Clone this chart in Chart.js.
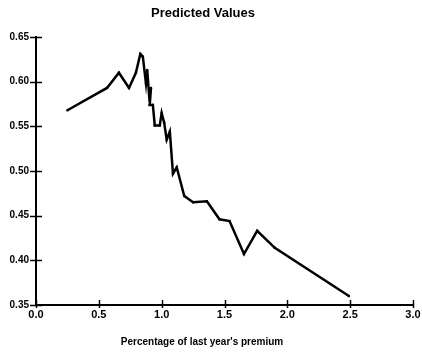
<!DOCTYPE html>
<html>
<head>
<meta charset="utf-8">
<script src="https://cdn.jsdelivr.net/npm/chart.js@4.4.0/dist/chart.umd.min.js"></script>
<style>
  html, body { margin: 0; padding: 0; background: #fff; }
  #wrap { width: 422px; height: 352px; position: relative; }
</style>
</head>
<body>
<div id="wrap"><canvas id="c" width="422" height="352"></canvas></div>
<script>
const chartTitle = "Predicted Values";
const xAxisTitle = "Percentage of last year's premium";
const xValues = [0.25, 0.565, 0.66, 0.74, 0.795, 0.83, 0.85, 0.875, 0.885, 0.90, 0.915, 0.905, 0.93, 0.945, 0.985, 1.0, 1.02, 1.04, 1.065, 1.09, 1.12, 1.18, 1.25, 1.36, 1.46, 1.54, 1.655, 1.76, 1.90, 2.49];
const yValues = [0.568, 0.593, 0.610, 0.593, 0.610, 0.631, 0.628, 0.598, 0.613, 0.585, 0.593, 0.574, 0.574, 0.551, 0.551, 0.565, 0.554, 0.535, 0.544, 0.497, 0.504, 0.472, 0.465, 0.466, 0.446, 0.444, 0.407, 0.433, 0.414, 0.360];
const xTickLabels = ["0.0", "0.5", "1.0", "1.5", "2.0", "2.5", "3.0"];
const yTickLabels = ["0.35", "0.40", "0.45", "0.50", "0.55", "0.60", "0.65"];

const FONT = "'Liberation Sans', Arial, Helvetica, sans-serif";

const points = xValues.map((x, i) => ({ x: x, y: yValues[i] }));

const decor = {
  id: 'decor',
  afterDraw(chart) {
    const ctx = chart.ctx;
    const xs = chart.scales.x, ys = chart.scales.y;
    const area = chart.chartArea;
    ctx.save();
    ctx.strokeStyle = '#000';
    ctx.lineWidth = 1.5;
    xs.ticks.forEach(t => {
      const px = Math.round(xs.getPixelForValue(t.value)) + 0.5;
      ctx.beginPath();
      ctx.moveTo(px, area.bottom - 5);
      ctx.lineTo(px, area.bottom + 3);
      ctx.stroke();
    });
    ys.ticks.forEach(t => {
      const py = Math.round(ys.getPixelForValue(t.value)) + 0.5;
      ctx.beginPath();
      ctx.moveTo(area.left - 6, py);
      ctx.lineTo(area.left + 6, py);
      ctx.stroke();
    });
    ctx.fillStyle = '#000';
    ctx.textAlign = 'center';
    ctx.textBaseline = 'middle';
    ctx.font = "bold 13px " + FONT;
    ctx.fillText(chartTitle, 203, 13);
    ctx.font = "bold 10px " + FONT;
    ctx.fillText(xAxisTitle, 202, 342);
    ctx.restore();
  }
};

new Chart(document.getElementById('c'), {
  type: 'line',
  data: {
    datasets: [{
      data: points,
      borderColor: '#000',
      backgroundColor: '#000',
      borderWidth: 2.5,
      tension: 0,
      pointStyle: 'rect',
      pointRadius: 1.6,
      pointBorderWidth: 0,
      fill: false
    }]
  },
  options: {
    responsive: false,
    animation: false,
    layout: { padding: { top: 37, right: 9, left: 0, bottom: 0 } },
    plugins: { legend: { display: false }, title: { display: false }, tooltip: { enabled: false } },
    scales: {
      x: {
        type: 'linear',
        min: 0, max: 3,
        afterFit(s) { s.height = 47; },
        afterBuildTicks(s) { s.ticks = xTickLabels.map(l => ({ value: parseFloat(l) })); },
        grid: { display: false, tickLength: 3 },
        border: { display: true, color: '#000', width: 2 },
        ticks: {
          color: '#000',
          padding: 0,
          maxRotation: 0,
          font: { family: FONT, size: 11, weight: 'bold' },
          callback: (v, i) => xTickLabels[i]
        }
      },
      y: {
        type: 'linear',
        min: 0.35, max: 0.65,
        afterFit(s) { s.width = 36; },
        afterBuildTicks(s) { s.ticks = yTickLabels.map(l => ({ value: parseFloat(l) })); },
        grid: { display: false, tickLength: 6 },
        border: { display: true, color: '#000', width: 2 },
        ticks: {
          color: '#000',
          padding: 1,
          font: { family: FONT, size: 10, weight: 'bold' },
          callback: (v, i) => yTickLabels[i]
        }
      }
    }
  },
  plugins: [decor]
});
</script>
</body>
</html>
